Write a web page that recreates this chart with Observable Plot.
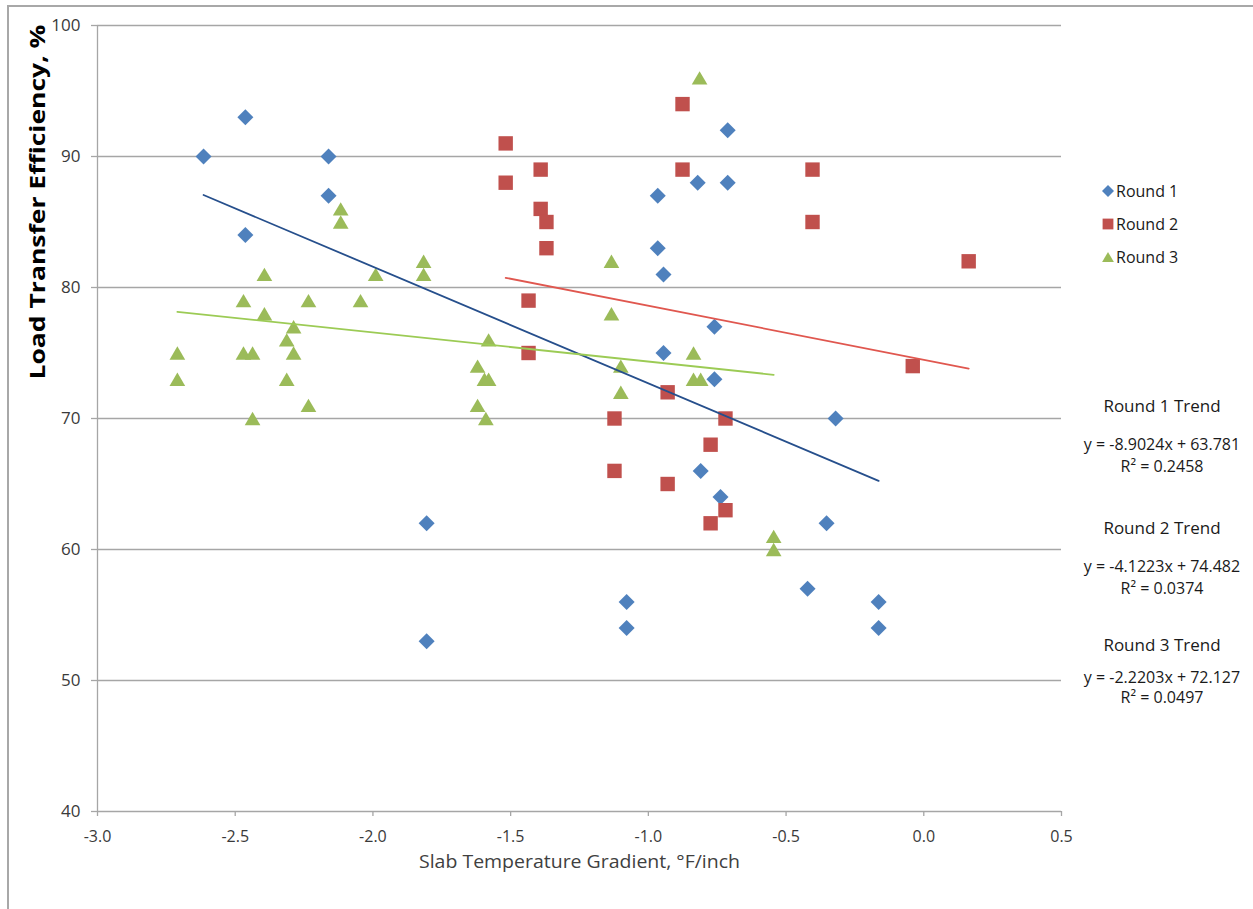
<!DOCTYPE html>
<html>
<head>
<meta charset="utf-8">
<script src="https://cdn.jsdelivr.net/npm/d3@7"></script>
<script src="https://cdn.jsdelivr.net/npm/@observablehq/plot@0.6"></script>
<style>
  body { margin: 0; background: #fff; }
  #wrap { position: relative; width: 1253px; height: 909px; overflow: hidden; font-family: "Open Sans", sans-serif; color: #1a1a1a; }
  #border { position: absolute; left: 7px; top: 5px; width: 1260px; height: 920px; border-left: 2px solid #a8a8a8; border-top: 2px solid #a8a8a8; box-sizing: border-box; }
  #chart { position: absolute; left: 0; top: 0; }
  .lg { position: absolute; font-size: 16px; line-height: 20px; white-space: nowrap; }
  .lg svg { position: absolute; left: -15px; top: 3px; }
  .tt { position: absolute; width: 220px; text-align: center; white-space: nowrap; }
</style>
</head>
<body>
<div id="wrap">
  <div id="border"></div>
  <div id="chart"></div>
</div>
<script>
// ---------- data ----------
const series = ["Round 1", "Round 2", "Round 3"];
const colors = ["#4F81BD", "#C0504D", "#9BBB59"];
const trendColors = ["#264F8C", "#E0574F", "#9CCB55"];

const round1X = [-2.615, -2.463, -2.463, -2.161, -2.161, -1.805, -1.805, -1.079, -1.079, -0.966, -0.966, -0.945, -0.945, -0.821, -0.81, -0.76, -0.76, -0.738, -0.712, -0.712, -0.422, -0.353, -0.32, -0.164, -0.164];
const round1Y = [90, 93, 84, 90, 87, 62, 53, 56, 54, 87, 83, 81, 75, 88, 66, 77, 73, 64, 92, 88, 57, 62, 70, 56, 54];

const round2X = [-1.518, -1.518, -1.391, -1.391, -1.37, -1.37, -1.435, -1.435, -1.123, -1.123, -0.93, -0.93, -0.876, -0.876, -0.774, -0.774, -0.72, -0.72, -0.404, -0.404, -0.04, 0.163];
const round2Y = [91, 88, 89, 86, 85, 83, 79, 75, 70, 66, 72, 65, 94, 89, 68, 62, 70, 63, 89, 85, 74, 82];

const round3X = [-2.71, -2.71, -2.47, -2.47, -2.437, -2.437, -2.394, -2.394, -2.313, -2.313, -2.288, -2.288, -2.234, -2.234, -2.117, -2.117, -2.045, -1.99, -1.816, -1.816, -1.62, -1.62, -1.595, -1.58, -1.58, -1.59, -1.134, -1.134, -1.10, -1.10, -0.836, -0.836, -0.81, -0.814, -0.545, -0.545];
const round3Y = [75, 73, 79, 75, 75, 70, 81, 78, 76, 73, 77, 75, 79, 71, 86, 85, 79, 81, 82, 81, 74, 71, 73, 73, 76, 70, 82, 78, 74, 72, 75, 73, 73, 96, 61, 60];

const trendSlopes = [-8.9024, -4.1223, -2.2203];
const trendIntercepts = [63.781, 74.482, 72.127];
const trendR2 = [0.2458, 0.0374, 0.0497];

const xTicks = [-3.0, -2.5, -2.0, -1.5, -1.0, -0.5, 0.0, 0.5];
const yTicks = [40, 50, 60, 70, 80, 90, 100];
const xTitle = "Slab Temperature Gradient, °F/inch";
const yTitle = "Load Transfer Efficiency, %";

// ---------- build tables ----------
const xsAll = [round1X, round2X, round3X];
const ysAll = [round1Y, round2Y, round3Y];
const points = [];
xsAll.forEach((xs, i) => xs.forEach((x, j) => points.push({series: series[i], x, y: ysAll[i][j]})));

const trendLines = series.map((s, i) => {
  const [x0, x1] = d3.extent(xsAll[i]);
  return [x0, x1].map(x => ({series: s, x, y: trendSlopes[i] * x + trendIntercepts[i]}));
});

// Excel-like marker shapes
const diamond = {draw(ctx, size) { const r = Math.sqrt(size / Math.PI); ctx.moveTo(0, -r); ctx.lineTo(r, 0); ctx.lineTo(0, r); ctx.lineTo(-r, 0); ctx.closePath(); }};
const square = {draw(ctx, size) { const r = Math.sqrt(size / Math.PI) * 0.9; ctx.rect(-r, -r, 2 * r, 2 * r); }};
const triangle = {draw(ctx, size) { const r = Math.sqrt(size / Math.PI); const w = r * 0.98, h = r * 0.84; ctx.moveTo(0, -h); ctx.lineTo(w, h); ctx.lineTo(-w, h); ctx.closePath(); }};

const gridColor = "#a6a6a6";
const labelColor = "#3a3a3a";
const xFmt = d => d.toFixed(1);
const xMin = xTicks[0], yMin = yTicks[0];

const plot = Plot.plot({
  width: 1253,
  height: 909,
  marginLeft: 97,
  marginRight: 192,
  marginTop: 25,
  marginBottom: 98,
  style: {fontFamily: "Open Sans, sans-serif", fontSize: "15px", color: "#404040", background: "transparent", overflow: "visible"},
  x: {domain: [xMin, xTicks[xTicks.length - 1]], axis: null},
  y: {domain: [yMin, yTicks[yTicks.length - 1]], axis: null},
  color: {domain: series, range: colors},
  symbol: {domain: series, range: [diamond, square, triangle]},
  marks: [
    Plot.ruleY(yTicks, {y: d => d, stroke: gridColor, strokeWidth: 1.3}),
    Plot.ruleX([xMin], {stroke: gridColor, strokeWidth: 1.3}),
    Plot.ruleY(yTicks, {y: d => d, x1: xMin, x2: xMin, insetLeft: -6, stroke: gridColor, strokeWidth: 1.3}),
    Plot.ruleX(xTicks, {x: d => d, y1: yMin, y2: yMin, insetBottom: -5, stroke: gridColor, strokeWidth: 1.3}),
    Plot.text(yTicks, {x: xMin, y: d => d, text: d => String(d), textAnchor: "end", dx: -17, fontSize: 17, fill: labelColor}),
    Plot.text(xTicks, {x: d => d, y: yMin, text: xFmt, dy: 25, fontSize: 16, fill: labelColor}),
    Plot.dot(points, {x: "x", y: "y", symbol: "series", fill: "series", r: 8, stroke: "none"}),
    ...trendLines.map((line, i) => Plot.line(line, {x: "x", y: "y", stroke: trendColors[i], strokeWidth: 1.8})),
    Plot.text([yTitle], {text: d => d, frameAnchor: "left", dx: -60, dy: -39, rotate: -90, fontSize: 22, fontWeight: "bold", fill: "#000"}),
    Plot.text([xTitle], {text: d => d, frameAnchor: "bottom", dy: 56, fontSize: 19, fill: "#404040"})
  ]
});

document.getElementById("chart").appendChild(plot);

const svgSel = d3.select(plot);
svgSel.selectAll("text").filter(function () { return this.textContent === yTitle; })
  .attr("textLength", 355).attr("lengthAdjust", "spacingAndGlyphs");
svgSel.selectAll("text").filter(function () { return this.textContent === xTitle; })
  .attr("textLength", 321).attr("lengthAdjust", "spacingAndGlyphs");

// ---------- legend ----------
const wrap = document.getElementById("wrap");
const shapes = [diamond, square, triangle];
const legendTops = [181, 214, 247];
series.forEach((s, i) => {
  const div = document.createElement("div");
  div.className = "lg";
  div.style.left = "1116px";
  div.style.top = legendTops[i] + "px";
  div.textContent = s;
  const svg = d3.create("svg").attr("width", 14).attr("height", 14);
  svg.append("path").attr("transform", "translate(7,7)")
    .attr("d", d3.symbol(shapes[i], Math.PI * 36)())
    .attr("fill", colors[i]);
  div.appendChild(svg.node());
  wrap.appendChild(div);
});

// ---------- trend annotations ----------
const trendBlockTops = [395, 517, 634];
series.forEach((s, i) => {
  const t = trendBlockTops[i];
  const items = [
    {text: s + " Trend", top: t, size: 17},
    {text: `y = ${trendSlopes[i].toFixed(4)}x + ${trendIntercepts[i].toFixed(3)}`, top: t + 38 + (i === 2 ? -6 : 0), size: 16},
    {text: `R² = ${trendR2[i].toFixed(4)}`, top: t + 60 + (i === 2 ? -8 : 0), size: 16}
  ];
  items.forEach(it => {
    const d = document.createElement("div");
    d.className = "tt";
    d.style.left = (1162 - 110) + "px";
    d.style.top = it.top + "px";
    d.style.fontSize = it.size + "px";
    d.style.lineHeight = "22px";
    d.textContent = it.text;
    wrap.appendChild(d);
  });
});
</script>
</body>
</html>
